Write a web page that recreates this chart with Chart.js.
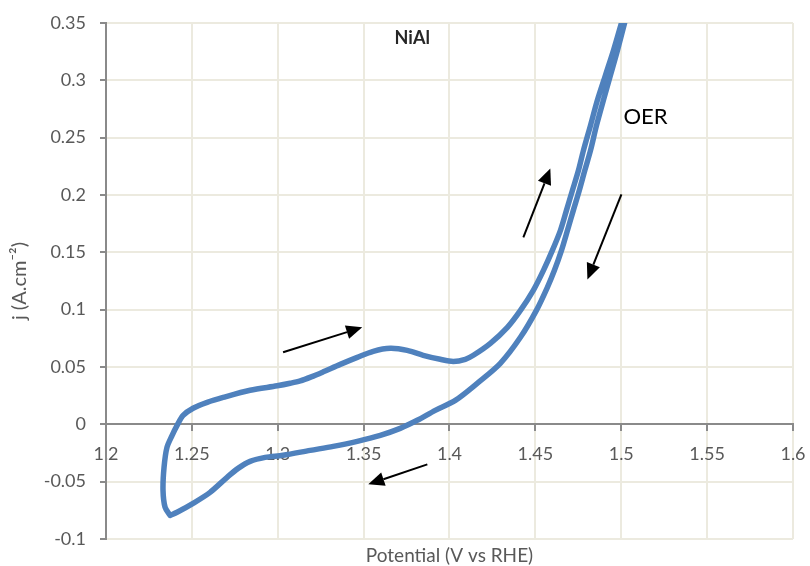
<!DOCTYPE html>
<html>
<head>
<meta charset="utf-8">
<script src="https://cdn.jsdelivr.net/npm/chart.js@4/dist/chart.umd.min.js"></script>
<style>
  html, body { margin: 0; padding: 0; background: #ffffff; }
  #wrap { width: 810px; height: 566px; }
</style>
</head>
<body>
<div id="wrap"><canvas id="cv" width="810" height="566"></canvas></div>
<script>
// Anodic (forward) sweep: potential in V vs RHE, current density in A/cm2
const forwardPotential = [1.2373, 1.2344, 1.2332, 1.2338, 1.2355, 1.2385, 1.2414, 1.2449, 1.2507, 1.2589,
  1.2682, 1.2839, 1.2997, 1.3072, 1.3131, 1.3195, 1.3265, 1.3364, 1.3463, 1.3556,
  1.3655, 1.3754, 1.3847, 1.3946, 1.4022, 1.4092, 1.4139, 1.4238, 1.4337, 1.4413,
  1.4488, 1.4547, 1.4599, 1.4646, 1.4681, 1.4716, 1.4751, 1.4780, 1.4821, 1.4861,
  1.4908, 1.4955, 1.5001, 1.5030];
const forwardCurrent = [-0.0794, -0.0724, -0.0576, -0.0375, -0.0201, -0.0096, -0.0009, 0.0078, 0.0140, 0.0192,
  0.0235, 0.0297, 0.0336, 0.0358, 0.0379, 0.0414, 0.0458, 0.0523, 0.0584, 0.0637,
  0.0663, 0.0645, 0.0602, 0.0567, 0.0549, 0.0567, 0.0602, 0.0706, 0.0846, 0.0994,
  0.1169, 0.1343, 0.1517, 0.1692, 0.1866, 0.2041, 0.2215, 0.2389, 0.2607, 0.2826,
  0.3044, 0.3262, 0.3498, 0.3655];

// Cathodic (return) sweep
const reversePotential = [1.5048, 1.5019, 1.4978, 1.4937, 1.4896, 1.4856, 1.4821, 1.4788, 1.4756, 1.4721,
  1.4687, 1.4652, 1.4611, 1.4570, 1.4506, 1.4413, 1.4296, 1.4168, 1.4034, 1.3917,
  1.3812, 1.3713, 1.3597, 1.3463, 1.3323, 1.3189, 1.3031, 1.2927, 1.2839, 1.2769,
  1.2705, 1.2606, 1.2507, 1.2414, 1.2373];
const reverseCurrent = [0.3655, 0.3498, 0.3262, 0.3044, 0.2826, 0.2607, 0.2389, 0.2215, 0.2041, 0.1866,
  0.1692, 0.1517, 0.1343, 0.1195, 0.0994, 0.0759, 0.0532, 0.0366, 0.0209, 0.0122,
  0.0035, -0.0035, -0.0096, -0.0148, -0.0192, -0.0227, -0.0270, -0.0288, -0.0323, -0.0384,
  -0.0462, -0.0593, -0.0689, -0.0767, -0.0794];

// Axis ticks
const xTickValues = [1.2, 1.25, 1.3, 1.35, 1.4, 1.45, 1.5, 1.55, 1.6];
const xTickLabels = ['1.2', '1.25', '1.3', '1.35', '1.4', '1.45', '1.5', '1.55', '1.6'];
const yTickValues = [-0.1, -0.05, 0, 0.05, 0.1, 0.15, 0.2, 0.25, 0.3, 0.35];
const yTickLabels = ['-0.1', '-0.05', '0', '0.05', '0.1', '0.15', '0.2', '0.25', '0.3', '0.35'];

// Sweep-direction arrows (tail -> tip), in data units
const arrowTailX = [1.3031, 1.4430, 1.5001, 1.3871];
const arrowTailY = [0.0628, 0.1631, 0.2006, -0.0349];
const arrowTipX  = [1.3492, 1.4587, 1.4803, 1.3527];
const arrowTipY  = [0.0846, 0.2232, 0.1264, -0.0523];

// Text labels placed in data units
const noteText = ['NiAl', 'OER'];
const noteX = [1.3783, 1.5141];
const noteY = [0.3366, 0.2680];

const loopPoints = forwardPotential.map((x, i) => ({ x, y: forwardCurrent[i] }))
  .concat(reversePotential.map((x, i) => ({ x, y: reverseCurrent[i] })));

const GRID = '#ECEADF';
const AXIS = '#8A8A8A';
const LABEL = '#595959';
const FONT = 'Lato, "Open Sans", sans-serif';

const annotations = {
  id: 'annotations',
  afterDatasetsDraw(chart) {
    const { ctx, scales: { x, y }, chartArea } = chart;
    ctx.save();
    // arrows
    ctx.strokeStyle = '#000';
    ctx.fillStyle = '#000';
    ctx.lineWidth = 2;
    for (let i = 0; i < arrowTailX.length; i++) {
      const x0 = x.getPixelForValue(arrowTailX[i]);
      const y0 = y.getPixelForValue(arrowTailY[i]);
      const x1 = x.getPixelForValue(arrowTipX[i]);
      const y1 = y.getPixelForValue(arrowTipY[i]);
      const ang = Math.atan2(y1 - y0, x1 - x0);
      const headLen = 16, headHalf = 7;
      const bx = x1 - headLen * Math.cos(ang);
      const by = y1 - headLen * Math.sin(ang);
      ctx.beginPath();
      ctx.moveTo(x0, y0);
      ctx.lineTo(bx, by);
      ctx.stroke();
      ctx.beginPath();
      ctx.moveTo(x1, y1);
      ctx.lineTo(bx + headHalf * Math.sin(ang), by - headHalf * Math.cos(ang));
      ctx.lineTo(bx - headHalf * Math.sin(ang), by + headHalf * Math.cos(ang));
      ctx.closePath();
      ctx.fill();
    }
    // notes
    ctx.textAlign = 'center';
    ctx.textBaseline = 'middle';
    ctx.fillStyle = '#262626';
    ctx.font = 'bold 18px ' + FONT;
    ctx.fillText(noteText[0], x.getPixelForValue(noteX[0]), y.getPixelForValue(noteY[0]));
    ctx.fillStyle = '#000';
    ctx.font = '22px ' + FONT;
    ctx.fillText(noteText[1], x.getPixelForValue(noteX[1]), y.getPixelForValue(noteY[1]));
    // x-axis title, below the plot area
    ctx.fillStyle = LABEL;
    ctx.font = '19px ' + FONT;
    ctx.fillText('Potential (V vs RHE)', (chartArea.left + chartArea.right) / 2, chartArea.bottom + 17);
    ctx.restore();
  }
};

new Chart(document.getElementById('cv'), {
  type: 'scatter',
  data: {
    datasets: [{
      label: 'NiAl',
      data: loopPoints,
      showLine: true,
      borderColor: '#4F81BD',
      backgroundColor: '#4F81BD',
      borderWidth: 5.5,
      pointRadius: 0,
      pointHoverRadius: 0,
      tension: 0.3,
      borderJoinStyle: 'round',
      borderCapStyle: 'round',
      clip: 0
    }]
  },
  options: {
    responsive: false,
    animation: false,
    devicePixelRatio: 1,
    layout: { padding: { left: 0, right: 17, top: 23, bottom: 27 } },
    plugins: {
      legend: { display: false },
      tooltip: { enabled: false },
      title: { display: false }
    },
    scales: {
      x: {
        type: 'linear',
        min: 1.2,
        max: 1.6,
        position: { y: 0 },
        afterBuildTicks(scale) { scale.ticks = xTickValues.map(v => ({ value: v })); },
        afterFit(scale) { scale.paddingLeft = 0; scale.paddingRight = 0; },
        ticks: {
          callback: (v, i) => xTickLabels[i],
          color: LABEL,
          font: { family: FONT, size: 18 },
          padding: 13,
          maxRotation: 0,
          autoSkip: false
        },
        grid: { color: GRID, lineWidth: 2, tickColor: AXIS, tickLength: 6, tickWidth: 2 },
        border: { color: AXIS, width: 2 }
      },
      y: {
        type: 'linear',
        min: -0.1,
        max: 0.35,
        position: 'left',
        afterBuildTicks(scale) { scale.ticks = yTickValues.map(v => ({ value: v })); },
        afterFit(scale) { scale.width = 106; scale.paddingTop = 0; scale.paddingBottom = 0; },
        ticks: {
          callback: (v, i) => yTickLabels[i],
          color: LABEL,
          font: { family: FONT, size: 18 },
          padding: 14,
          autoSkip: false
        },
        title: {
          display: true,
          text: 'j (A.cm\u207B\u00B2)',
          color: LABEL,
          font: { family: FONT, size: 20 },
          padding: { top: 8, bottom: 0 }
        },
        grid: { color: GRID, lineWidth: 2, tickColor: AXIS, tickLength: 6, tickWidth: 2 },
        border: { color: AXIS, width: 2 }
      }
    }
  },
  plugins: [annotations]
});
</script>
</body>
</html>
